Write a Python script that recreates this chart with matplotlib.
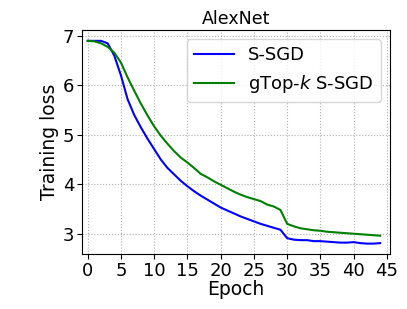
import matplotlib
matplotlib.use("Agg")
import matplotlib.pyplot as plt

epochs = list(range(45))
ssgd = [6.90, 6.90, 6.90, 6.85, 6.60, 6.20, 5.72, 5.40, 5.15, 4.92, 4.71, 4.50,
        4.33, 4.20, 4.07, 3.96, 3.86, 3.77, 3.69, 3.61, 3.53, 3.47, 3.41, 3.35,
        3.30, 3.25, 3.20, 3.16, 3.12, 3.08, 2.91, 2.88, 2.87, 2.87, 2.85, 2.85,
        2.84, 2.83, 2.82, 2.82, 2.83, 2.81, 2.80, 2.80, 2.81]
gtopk = [6.90, 6.89, 6.85, 6.78, 6.66, 6.46, 6.16, 5.89, 5.63, 5.39, 5.17, 4.98,
         4.82, 4.67, 4.54, 4.44, 4.33, 4.21, 4.14, 4.06, 3.99, 3.92, 3.85, 3.79,
         3.74, 3.70, 3.66, 3.59, 3.55, 3.48, 3.20, 3.15, 3.11, 3.09, 3.07, 3.06,
         3.04, 3.03, 3.02, 3.01, 3.00, 2.99, 2.98, 2.97, 2.96]
labels = ["S-SGD", "gTop-$k$ S-SGD"]
xticks = [0, 5, 10, 15, 20, 25, 30, 35, 40, 45]
yticks = [3, 4, 5, 6, 7]

fig = plt.figure(figsize=(4.07, 3.09), dpi=100)
ax = fig.add_axes([0.2015, 0.178, 0.7565, 0.725])
ax.plot(epochs, ssgd, color="blue", lw=1.5, label=labels[0])
ax.plot(epochs, gtopk, color="green", lw=1.5, label=labels[1])
ax.set_xlim(-0.86, 45.46)
ax.set_ylim(2.59, 7.12)
ax.set_xticks(xticks)
ax.set_yticks(yticks)
ax.tick_params(labelsize=13, pad=2)
ax.grid(True, linestyle=":", color="#b0b0b0", lw=0.8)
ax.set_xlabel("Epoch", fontsize=13.5, labelpad=0)
ax.set_ylabel("Training loss", fontsize=13.5, labelpad=3)
ax.set_title("AlexNet", fontsize=12.5, pad=4)
ax.legend(loc="upper right", fontsize=13, fancybox=True, framealpha=0.8,
          handlelength=2.2)
fig.savefig("out.png", dpi=100)
